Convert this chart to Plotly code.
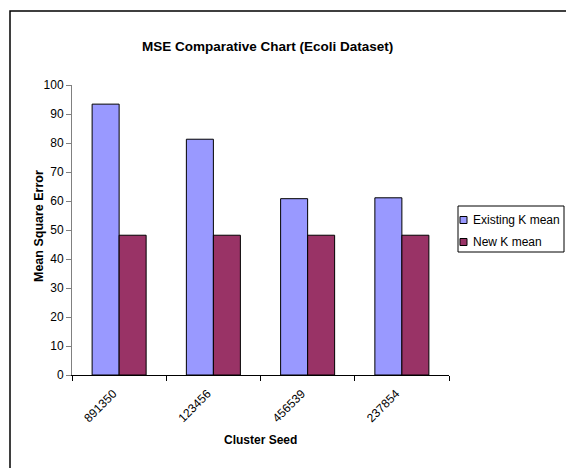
import plotly.graph_objects as go

# Cluster seeds and MSE results for the Ecoli dataset
seeds = ["891350", "123456", "456539", "237854"]
existing_k_mean = [93.4, 81.3, 60.8, 61.1]
new_k_mean = [48.2, 48.2, 48.2, 48.2]

series = [
    ("Existing K mean", existing_k_mean, "#9999FF"),
    ("New K mean", new_k_mean, "#993366"),
]

FONT = "Arial, Liberation Sans, sans-serif"

W, H = 566, 468
L, R, T, B = 72, 117, 85, 93
PW, PH = W - L - R, H - T - B


def px_x(x):
    return (x - L) / PW


def px_y(y):
    return (H - B - y) / PH


fig = go.Figure()
for name, values, color in series:
    fig.add_trace(go.Bar(
        name=name, x=seeds, y=values, showlegend=False,
        marker=dict(color=color, line=dict(color="#000000", width=1)),
    ))

shapes = [
    # outer chart frame
    dict(type="rect", xref="paper", yref="paper",
         x0=px_x(10), y0=px_y(480), x1=px_x(580), y1=px_y(11),
         line=dict(color="#000000", width=1.5), layer="below"),
    # legend box
    dict(type="rect", xref="paper", yref="paper",
         x0=px_x(458), y0=px_y(252), x1=px_x(564), y1=px_y(206),
         line=dict(color="#000000", width=1), fillcolor="white", layer="above"),
]
annotations = [
    dict(text="<b>MSE Comparative Chart (Ecoli Dataset)</b>",
         x=px_x(267), y=px_y(37), xref="paper", yref="paper",
         showarrow=False, font=dict(family=FONT, size=13.5)),
    dict(text="<b>Cluster Seed</b>",
         x=px_x(260), y=px_y(449), xref="paper", yref="paper",
         showarrow=False, font=dict(family=FONT, size=12)),
    dict(text="<b>Mean Square Error</b>", textangle=-90,
         x=px_x(30), y=px_y(226), xref="paper", yref="paper",
         showarrow=False, font=dict(family=FONT, size=12.5)),
]

# legend entries: small swatch + label
for i, (name, values, color) in enumerate(series):
    cy = 220 + 22 * i
    shapes.append(dict(
        type="rect", xref="paper", yref="paper",
        x0=px_x(460), x1=px_x(467), y0=px_y(cy + 3.5), y1=px_y(cy - 3.5),
        line=dict(color="#000000", width=1), fillcolor=color, layer="above"))
    annotations.append(dict(
        text=name, x=px_x(471), y=px_y(cy), xref="paper", yref="paper",
        xanchor="left", yanchor="middle", showarrow=False,
        font=dict(family=FONT, size=12)))

fig.update_layout(
    width=W, height=H,
    margin=dict(l=L, r=R, t=T, b=B, pad=0, autoexpand=False),
    paper_bgcolor="white", plot_bgcolor="white",
    font=dict(family=FONT, size=12, color="#000000"),
    barmode="group", bargap=0.427, bargroupgap=0,
    showlegend=False,
    xaxis=dict(
        type="category", range=[-0.5, 3.5],
        showline=True, linecolor="#000000", linewidth=1,
        ticks="outside", tickson="boundaries", ticklen=5, tickcolor="#000000",
        tickangle=-45, showgrid=False, zeroline=False,
        ticklabelstandoff=6, ticklabelshift=-6,
        tickfont=dict(family=FONT, size=12),
    ),
    yaxis=dict(
        range=[0, 100], dtick=10,
        showline=True, linecolor="#808080", linewidth=1,
        ticks="outside", ticklen=5, tickcolor="#808080",
        showgrid=False, zeroline=False,
        tickfont=dict(family=FONT, size=12),
    ),
    annotations=annotations,
    shapes=shapes,
)

fig.write_html("out.html")
